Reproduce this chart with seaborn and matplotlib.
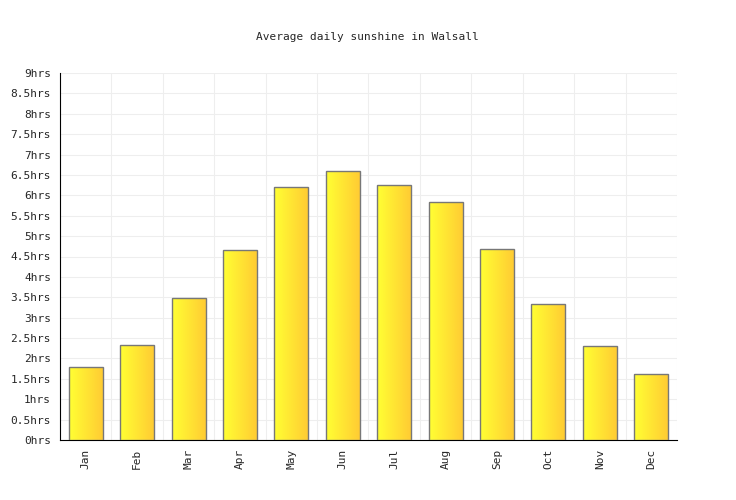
import numpy as np
import pandas as pd
import matplotlib
matplotlib.use('Agg')
import matplotlib.pyplot as plt
import seaborn as sns
from matplotlib.colors import LinearSegmentedColormap

MONTHS = ['Jan', 'Feb', 'Mar', 'Apr', 'May', 'Jun', 'Jul', 'Aug', 'Sep', 'Oct', 'Nov', 'Dec']
SUNSHINE = [1.79, 2.33, 3.48, 4.66, 6.2, 6.59, 6.25, 5.83, 4.68, 3.33, 2.3, 1.62]

sns.set_style('white')
plt.rcParams['font.family'] = ['DejaVu Sans Mono']

df = pd.DataFrame({'month': MONTHS, 'hours': SUNSHINE})
fig = plt.figure(figsize=(7.36, 5.0), dpi=100)
ax = fig.add_axes([60 / 736, 60 / 500, 617 / 736, 367 / 500])
sns.barplot(data=df, x='month', y='hours', ax=ax, width=0.66,
            color='#ffee33', edgecolor='#777777', linewidth=1, saturation=1, zorder=3)

cmap = LinearSegmentedColormap.from_list('sun', ['#ffff33', '#ffcc33'])
grad = np.linspace(0, 1, 64).reshape(1, -1)
for patch in ax.patches:
    x0, y0 = patch.get_x(), patch.get_y()
    w, h = patch.get_width(), patch.get_height()
    im = ax.imshow(grad, cmap=cmap, aspect='auto', extent=(x0, x0 + w, y0, y0 + h), zorder=3)
    im.set_clip_path(patch)
    patch.set_facecolor('none')
    patch.set_zorder(4)

ax.set_xlim(-0.5, 11.5)
ax.set_ylim(0, 9)
yt = np.arange(0, 9.01, 0.5)
ax.set_yticks(yt)
ax.set_yticklabels([f'{v:g}hrs' for v in yt], fontsize=8)
ax.set_xticks(range(12))
ax.set_xticklabels(MONTHS, rotation=90, fontsize=8)
ax.set_xticks(np.arange(-0.5, 12, 1), minor=True)
ax.grid(True, which='minor', axis='x', color='#eeeeee', zorder=0)
ax.grid(True, which='major', axis='y', color='#eeeeee', zorder=0)
ax.tick_params(axis='both', which='major', length=3, color='black')
ax.tick_params(axis='x', which='minor', length=0)
for s in ['top', 'right']:
    ax.spines[s].set_visible(False)
ax.spines['left'].set_color('black')
ax.spines['bottom'].set_color('black')
ax.set_xlabel('')
ax.set_ylabel('')
fig.text(367 / 736, 1 - 37 / 500, 'Average daily sunshine in Walsall', ha='center', va='center', fontsize=8)
fig.savefig('out.png', dpi=100)
